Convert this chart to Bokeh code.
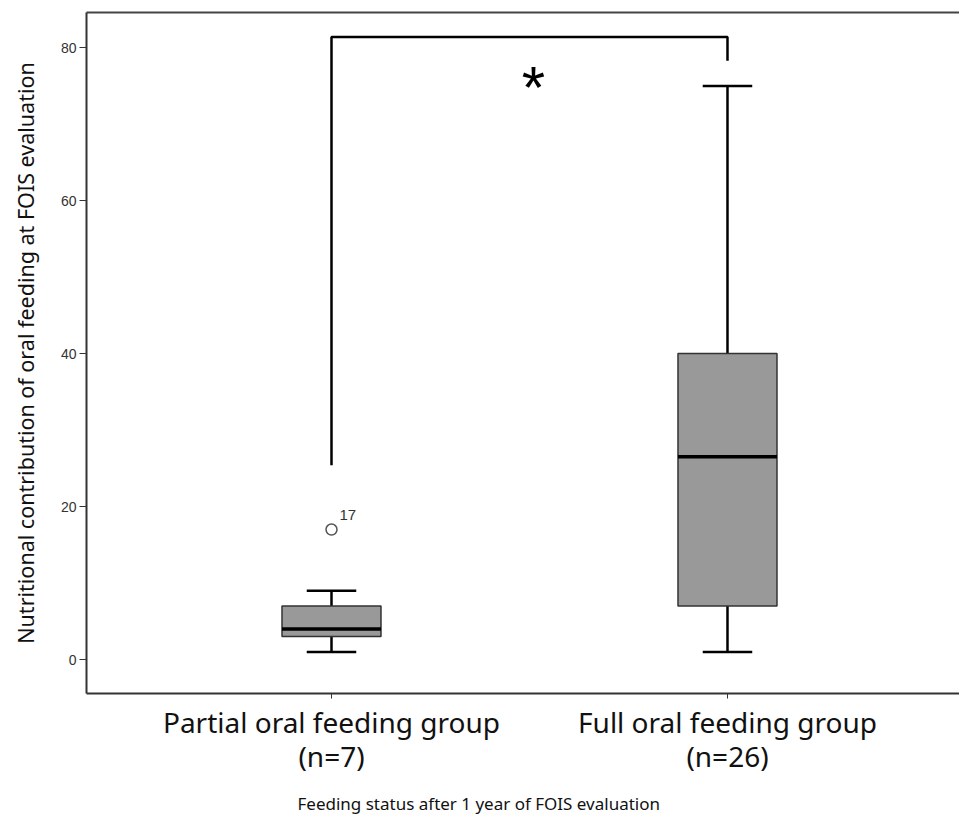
from bokeh.plotting import figure
from bokeh.models import ColumnDataSource, FixedTicker, LinearAxis, Range1d, Title
from bokeh.core.properties import value
from bokeh.embed import file_html
from bokeh.resources import INLINE

# ---- data ----
groups = ["Partial oral feeding group\n(n=7)", "Full oral feeding group\n(n=26)"]
x_title = "Feeding status after 1 year of FOIS evaluation"
y_title = "Nutritional contribution of oral feeding at FOIS evaluation"
q1 = [3, 7]
median = [4, 26.5]
q3 = [7, 40]
lower = [1, 1]
upper = [9, 75]
outlier_group = [0]
outlier_value = [17]
outlier_label = ["17"]
bracket_top = 81.4
bracket_left_bottom = 25.4
bracket_right_bottom = 78.3
star_y = 75
y_ticks = [0, 20, 40, 60, 80]

pos = [i + 1 for i in range(len(groups))]
box_w = 0.25
cap_w = 0.125

FONT = "Noto Sans"

p = figure(width=959, height=830, output_backend="svg", toolbar_location=None,
           x_range=Range1d(0.3813, 2.5859), y_range=Range1d(-4.44, 84.6),
           min_border_left=86, min_border_right=0, min_border_top=12, min_border_bottom=137)
p.outline_line_color = None
p.grid.visible = False
p.background_fill_color = "white"
p.border_fill_color = "white"

# axes
p.xaxis.ticker = FixedTicker(ticks=pos)
p.xaxis.major_label_overrides = {pp: g for pp, g in zip(pos, groups)}
p.xaxis.major_label_text_font = FONT
p.xaxis.major_label_text_font_size = "28px"
p.xaxis.major_label_text_color = "#111111"
p.xaxis.major_label_text_line_height = 0.92
p.xaxis.major_label_standoff = 4
p.xaxis.minor_tick_line_color = None
p.xaxis.major_tick_out = 5
p.xaxis.major_tick_in = 0
p.xaxis.axis_line_width = 2
p.xaxis.axis_line_color = "#333333"
p.xaxis.major_tick_line_color = "#333333"

p.yaxis.ticker = FixedTicker(ticks=y_ticks)
p.yaxis.major_label_text_font = "Liberation Sans"
p.yaxis.major_label_text_font_size = "14px"
p.yaxis.major_label_text_color = "#333333"
p.yaxis.minor_tick_line_color = None
p.yaxis.major_tick_out = 7
p.yaxis.major_tick_in = 0
p.yaxis.major_label_standoff = 3
p.yaxis.axis_line_width = 2
p.yaxis.axis_line_color = "#333333"
p.yaxis.major_tick_line_color = "#333333"
p.yaxis.axis_label = y_title
p.yaxis.axis_label_text_font = FONT
p.yaxis.axis_label_text_font_style = "normal"
p.yaxis.axis_label_text_font_size = "21.5px"
p.yaxis.axis_label_text_color = "#111111"
p.yaxis.axis_label_standoff = 18

top_axis = LinearAxis(ticker=FixedTicker(ticks=[]), axis_line_width=2, axis_line_color="#444444",
                      major_label_text_font_size="0px", minor_tick_line_color=None,
                      major_tick_line_color=None)
p.add_layout(top_axis, "above")

xtitle = Title(text=x_title, align="left", offset=211,
               text_font=FONT, text_font_style="normal", text_font_size="17px",
               text_color="#111111", standoff=22)
p.add_layout(xtitle, "below")

# boxes
src = ColumnDataSource(dict(x=pos, q1=q1, q3=q3, med=median, lo=lower, hi=upper,
                            xl=[x - box_w / 2 for x in pos], xr=[x + box_w / 2 for x in pos],
                            cl=[x - cap_w / 2 for x in pos], cr=[x + cap_w / 2 for x in pos]))
p.segment(x0="x", x1="x", y0="q3", y1="hi", source=src, line_color="black", line_width=2.5)
p.segment(x0="x", x1="x", y0="q1", y1="lo", source=src, line_color="black", line_width=2.5)
p.segment(x0="cl", x1="cr", y0="hi", y1="hi", source=src, line_color="black", line_width=2.5)
p.segment(x0="cl", x1="cr", y0="lo", y1="lo", source=src, line_color="black", line_width=2.5)
p.vbar(x="x", width=box_w, bottom="q1", top="q3", source=src,
       fill_color="#999999", line_color="#333333", line_width=1.5)
p.segment(x0="xl", x1="xr", y0="med", y1="med", source=src, line_color="black", line_width=3.5)

# outlier
ox = [pos[g] for g in outlier_group]
p.scatter(x=ox, y=outlier_value, marker="circle", size=11, fill_color="white",
          line_color="#555555", line_width=1.5)
p.text(x=ox, y=outlier_value, text=outlier_label, x_offset=8, y_offset=-10,
       text_font=value("Liberation Sans"), text_font_size="15px", text_color="#333333",
       text_baseline="bottom", text_align="left")

# significance bracket
p.line(x=[pos[0], pos[0], pos[1], pos[1]],
       y=[bracket_left_bottom, bracket_top, bracket_top, bracket_right_bottom],
       line_color="black", line_width=2.5)
p.text(x=[(pos[0] + pos[1]) / 2], y=[star_y], text=["*"], x_offset=4, y_offset=2,
       text_font=value("Liberation Sans"), text_font_size="60px", text_color="black",
       text_align="center", text_baseline="middle")

open("out.html", "w").write(file_html(p, INLINE))
